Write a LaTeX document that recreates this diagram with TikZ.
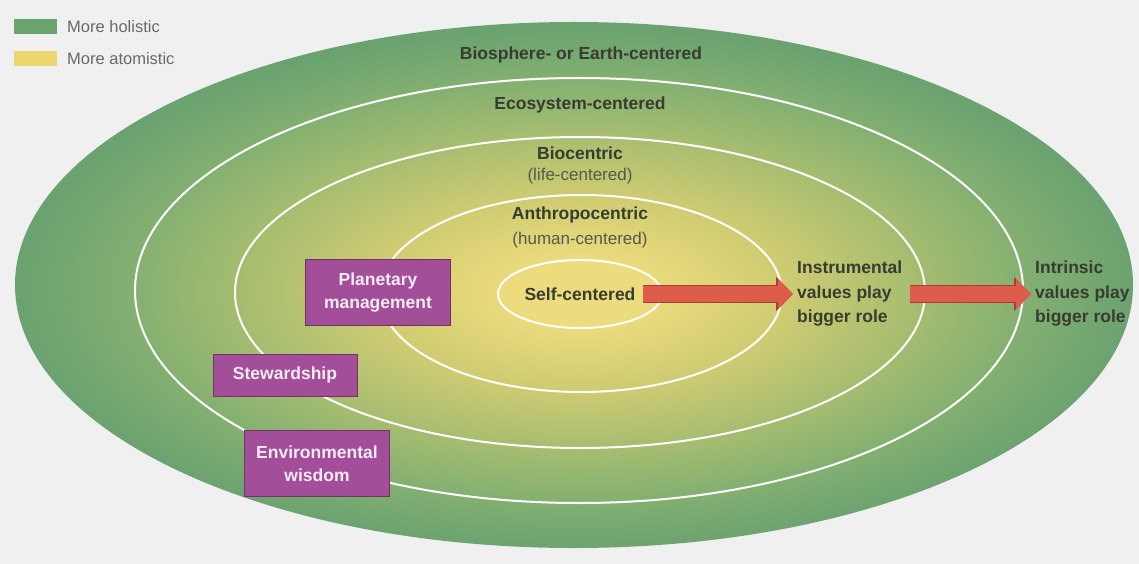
\documentclass[tikz,border=0pt]{standalone}
\usepackage{fontspec}
\setmainfont{Liberation Sans}
\usetikzlibrary{arrows.meta}
\definecolor{bgc}{RGB}{240,240,240}
\definecolor{cY}{RGB}{236,220,125}
\definecolor{cA}{RGB}{208,204,114}
\definecolor{cB}{RGB}{164,188,112}
\definecolor{cC}{RGB}{132,176,113}
\definecolor{cG}{RGB}{106,162,112}
\definecolor{legG}{RGB}{108,164,110}
\definecolor{legY}{RGB}{236,214,110}
\definecolor{legT}{RGB}{105,105,105}
\definecolor{labT}{RGB}{55,60,48}
\definecolor{boxF}{RGB}{163,78,152}
\definecolor{boxD}{RGB}{112,52,100}
\definecolor{boxT}{RGB}{246,236,246}
\definecolor{arrF}{RGB}{222,92,76}
\definecolor{arrD}{RGB}{170,60,50}
\pgfdeclareradialshading{rings}{\pgfpoint{0.3bp}{-0.8bp}}{color(0bp)=(cY); color(3bp)=(cY); color(9bp)=(cA); color(15.4bp)=(cB); color(19.9bp)=(cC); color(25bp)=(cG); color(50bp)=(cG)}
\tikzset{
  ring/.style={draw=white, line width=2pt},
  lab/.style={text=labT, font=\fontsize{17.5}{23}\selectfont\bfseries, inner sep=0pt},
  sublab/.style={text=labT!85, font=\fontsize{17}{23}\selectfont, inner sep=0pt},
  valtext/.style={text=labT, font=\fontsize{17.5}{24.5}\selectfont\bfseries, align=left, anchor=west, inner sep=0pt},
  ethic/.style={fill=boxF, draw=boxD, line width=1pt, text=boxT, font=\fontsize{17.5}{23}\selectfont\bfseries, align=center, inner sep=0pt},
  legtext/.style={text=legT, font=\fontsize{16.5}{20}\selectfont, anchor=west, inner sep=0pt},
  bigarrow/.style={draw=arrF, line width=16pt, -{Triangle[length=15pt,width=30pt]},
     preaction={draw=arrD, line width=18pt, -{Triangle[length=17pt,width=33pt]}}}
}
\begin{document}
\begin{tikzpicture}[x=1pt,y=-1pt]
\useasboundingbox (0,0) rectangle (1139,564);
\fill[bgc] (0,0) rectangle (1139,564);
% legend
\fill[legG] (14,19) rectangle (57,34);
\fill[legY] (14,51) rectangle (57,66);
\node[legtext] (lh) at (67,27) {More holistic};
\node[legtext] (la) at (67,59) {More atomistic};
% rings
\shade[shading=rings] (574,285) ellipse [x radius=559, y radius=263];
\draw[ring] (579,290.5) ellipse [x radius=444, y radius=212.5];
\draw[ring] (580,292.5) ellipse [x radius=345, y radius=155.5];
\draw[ring] (581,293.5) ellipse [x radius=201, y radius=98.5];
\draw[ring] (580,294) ellipse [x radius=82, y radius=34];
% labels
\node[lab] (bios) at (581,55) {Biosphere- or Earth-centered};
\node[lab] (eco) at (580,105) {Ecosystem-centered};
\node[lab] (bio) at (580,153) {Biocentric};
\node[sublab] (life) at (580,176) {(life-centered)};
\node[lab] (anth) at (580,215) {Anthropocentric};
\node[sublab] (human) at (580,240) {(human-centered)};
\node[lab] (self) at (580,294) {Self-centered};
\node[valtext] (instr) at (797,294) {Instrumental\\values play\\bigger role};
\node[valtext] (intr) at (1035,294) {Intrinsic\\values play\\bigger role};
% boxes
\node[ethic, minimum width=145pt, minimum height=66pt] (plan) at (378,292.5) {Planetary\\management};
\node[ethic, minimum width=144pt, minimum height=42pt] (stew) at (285,375) {Stewardship};
\node[ethic, minimum width=145pt, minimum height=66pt] (env) at (317,463.5) {Environmental\\wisdom};
% arrows
\draw[bigarrow] ([xshift=7pt]self.east) -- ([xshift=-4pt]instr.west |- self.east);
\draw[bigarrow] ([xshift=8pt]instr.east |- self.east) -- ([xshift=-4pt]intr.west |- self.east);
\end{tikzpicture}
\end{document}
